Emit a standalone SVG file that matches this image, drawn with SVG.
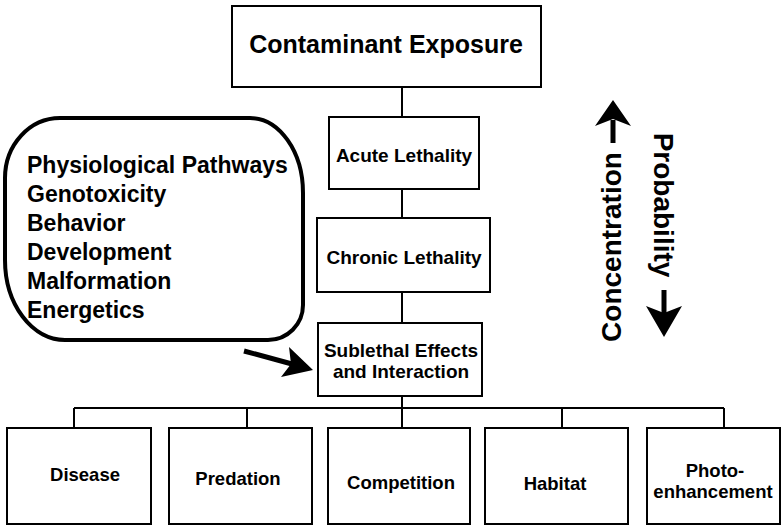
<svg xmlns="http://www.w3.org/2000/svg" width="781" height="526" viewBox="0 0 781 526">
<style>
.box{fill:#fff;stroke:#000;stroke-width:2}
.t{font-family:"Liberation Sans",Arial,Helvetica,sans-serif;font-weight:bold;fill:#000;text-anchor:middle}
.l{font-family:"Liberation Sans",Arial,Helvetica,sans-serif;font-weight:bold;fill:#000;font-size:23px}
.c{fill:none;stroke:#000;stroke-width:2}
</style>
<rect width="781" height="526" fill="#fff"/>
<g id="connectors">
<path class="c" d="M402 87V117M402 189V218M402 292V323M402 396V408M74 408H724M74 408V428M247 408V428M402 408V428M562 408V428M724 408V428"/>
<line x1="244" y1="351" x2="292" y2="364" stroke="#000" stroke-width="5"/>
<path d="M313 370L281 377L291 364L289 347Z" fill="#000"/>
</g>
<g id="contaminant"><rect class="box" x="232" y="6" width="309" height="81"/><text class="t" x="386" y="53" font-size="25">Contaminant Exposure</text></g>
<g id="acute"><rect class="box" x="329" y="117" width="150" height="72"/><text class="t" x="404" y="162" font-size="19">Acute Lethality</text></g>
<g id="chronic"><rect class="box" x="317" y="218" width="173" height="74"/><text class="t" x="404" y="264" font-size="19">Chronic Lethality</text></g>
<g id="sublethal"><rect class="box" x="318" y="323" width="164" height="73"/><text class="t" x="401" y="357" font-size="19">Sublethal Effects</text><text class="t" x="401" y="378" font-size="19">and Interaction</text></g>
<g id="endpoints"><path d="M60 118H250A53 75 0 0 1 303 193V305A35 35 0 0 1 268 340H65A60 80 0 0 1 5 260V178A55 60 0 0 1 60 118Z" fill="none" stroke="#000" stroke-width="4"/>
<text class="l" x="27" y="173">Physiological Pathways</text>
<text class="l" x="27" y="202">Genotoxicity</text>
<text class="l" x="27" y="231">Behavior</text>
<text class="l" x="27" y="260">Development</text>
<text class="l" x="27" y="289">Malformation</text>
<text class="l" x="27" y="318">Energetics</text></g>
<g id="disease"><rect class="box" x="7" y="428" width="144" height="96"/><text class="t" x="85" y="481" font-size="18.5">Disease</text></g>
<g id="predation"><rect class="box" x="169" y="428" width="143" height="96"/><text class="t" x="238" y="485" font-size="18.5">Predation</text></g>
<g id="competition"><rect class="box" x="328" y="428" width="142" height="96"/><text class="t" x="401" y="489" font-size="18.5">Competition</text></g>
<g id="habitat"><rect class="box" x="485" y="428" width="143" height="96"/><text class="t" x="555" y="490" font-size="18.5">Habitat</text></g>
<g id="photo"><rect class="box" x="647" y="428" width="133" height="96"/><text class="t" x="715" y="477" font-size="18.5">Photo-</text><text class="t" x="713" y="498" font-size="18.5">enhancement</text></g>
<g id="concentration"><text class="t" font-size="28" transform="translate(621,247) rotate(-90)">Concentration</text>
<line x1="613" y1="143" x2="613" y2="120" stroke="#000" stroke-width="5"/>
<path d="M613 100L631 126L613 119L595 126Z" fill="#000"/></g>
<g id="probability"><text class="t" font-size="28" transform="translate(654,205) rotate(90)">Probability</text>
<line x1="664" y1="290" x2="664" y2="313" stroke="#000" stroke-width="5"/>
<path d="M664 337L646 306L664 313L682 306Z" fill="#000"/></g>
</svg>
